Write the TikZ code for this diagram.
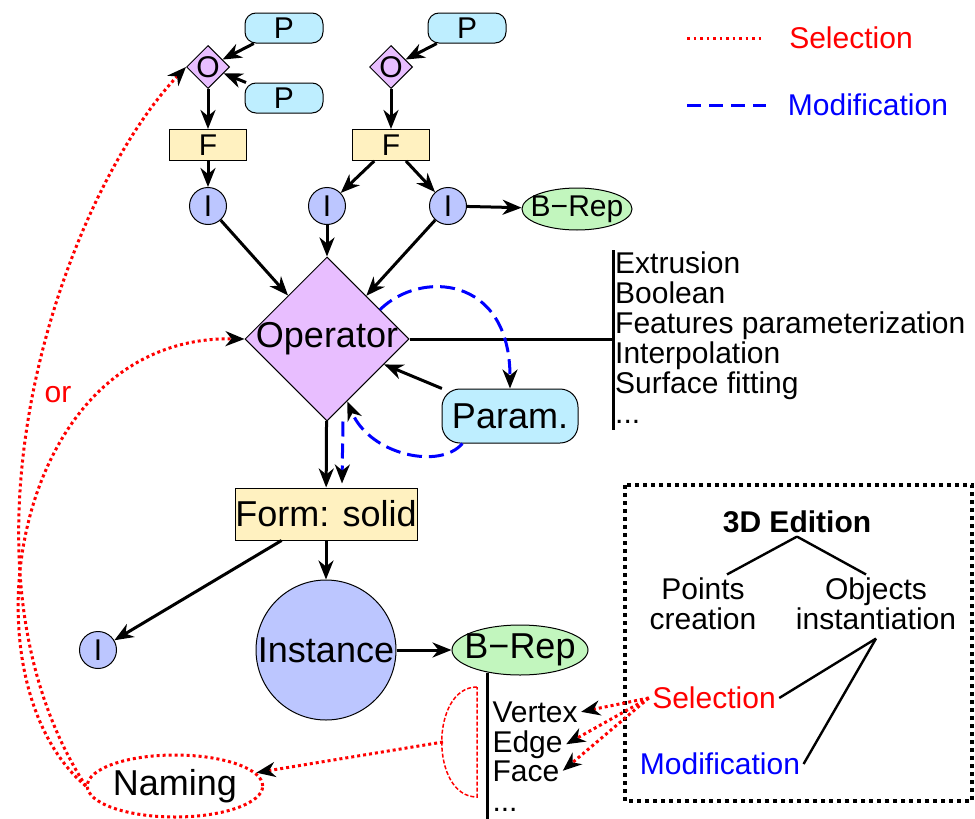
\documentclass[tikz,border=0pt]{standalone}
\usepackage{fontspec}
\setmainfont{Liberation Sans}
\usetikzlibrary{shapes.geometric}
\usetikzlibrary{arrows.meta}

\definecolor{pblue}{RGB}{190,238,255}
\definecolor{opurple}{RGB}{232,190,255}
\definecolor{fyellow}{RGB}{255,241,192}
\definecolor{iblue}{RGB}{188,198,255}
\definecolor{bgreen}{RGB}{194,246,190}

\tikzset{
  >={Stealth[length=19pt,width=15pt,inset=6pt,color=black]},
  txt/.style={font=\fontsize{30}{30}\selectfont},
  bigtxt/.style={font=\fontsize{36}{36}\selectfont},
  edgeline/.style={line width=1pt},
  pbox/.style={txt, draw, edgeline, fill=pblue, rounded corners=11pt, minimum width=78pt, minimum height=30pt, inner sep=0pt},
  obox/.style={txt, draw, edgeline, fill=opurple, diamond, minimum size=43pt, inner sep=-1pt},
  fbox/.style={txt, draw, edgeline, fill=fyellow, minimum width=77pt, minimum height=31pt, inner sep=0pt},
  ibox/.style={txt, draw, edgeline, fill=iblue, circle, minimum size=37pt, inner sep=0pt},
  brep/.style={draw, edgeline, fill=bgreen, ellipse, inner xsep=-8pt, inner ysep=0pt},
  arr/.style={->, line width=3pt},
  plain/.style={line width=3pt},
  selline/.style={->, red, line width=3pt, dash pattern=on 3pt off 3pt},
  modline/.style={->, blue, line width=3pt, dash pattern=on 15pt off 7pt},
  brkline/.style={red, line width=1.5pt, dash pattern=on 4pt off 2pt},
  boxline/.style={line width=4pt, dash pattern=on 4pt off 4pt},
}

\begin{document}
\begin{tikzpicture}[x=1pt, y=-1pt]
        \useasboundingbox[fill=white] (0,0) rectangle (975,819);
        %
        \node[pbox] (p1) at (284,28) {P};
        \node[pbox] (p2) at (284,98) {P};
        \node[pbox] (p3) at (467,28) {P};
        \node[obox] (o1) at (208,67) {O};
        \node[obox] (o2) at (391,67) {O};
        \node[fbox] (f1) at (208,145) {F};
        \node[fbox] (f2) at (391,145) {F};
        \node[ibox] (i1) at (208,206) {I};
        \node[ibox] (i2) at (327,206) {I};
        \node[ibox] (i3) at (448,206) {I};
        \node[brep, txt, minimum width=110pt, minimum height=42pt] (b1) at (577,209) {B−Rep};
        %
        \node[bigtxt, draw, edgeline, fill=opurple, diamond, minimum size=164pt, inner sep=-4pt] (op) at (327,339) {Operator};
        \node[bigtxt, draw, edgeline, fill=pblue, rounded corners=18pt, minimum width=136pt, minimum height=54pt] (prm) at (510,416) {Param.};
        \node[txt, anchor=north west, align=left, inner sep=2pt] (ops) at (613,250) {Extrusion\\Boolean\\Features parameterization\\Interpolation\\Surface fitting\\...};
        %
        \node[bigtxt, draw, edgeline, fill=fyellow, minimum width=182pt, minimum height=52pt, inner sep=0pt] (frm) at (326,514) {Form: solid};
        \node[bigtxt, draw, edgeline, fill=iblue, circle, minimum size=140pt, inner sep=0pt] (ins) at (326,650) {Instance};
        \node[ibox] (i4) at (98,650) {I};
        \node[brep, bigtxt, minimum width=136pt, minimum height=50pt] (b2) at (520,650) {B−Rep};
        %
        \node[txt, anchor=base west] (vtx) at (489,722) {Vertex};
        \node[txt, anchor=base west] (edg) at (489,752) {Edge};
        \node[txt, anchor=base west] (fac) at (489,781) {Face};
        \node[txt, anchor=base west] (etc) at (489,811) {...};
        \coordinate (vend) at (487,819);
        %
        \node[bigtxt, ellipse, draw=red, line width=3pt, dash pattern=on 3pt off 3pt, minimum width=174pt, minimum height=62pt, inner sep=0pt] (nam) at (175,786) {Naming};
        \node[txt, red] (orlbl) at (58,395) {or};
        %
        \coordinate (ls1) at (687,38);
        \coordinate (ls2) at (763,38);
        \node[txt, red] (lsel) at (851,38) {Selection};
        \coordinate (lm1) at (687,105);
        \coordinate (lm2) at (766,105);
        \node[txt, blue] (lmod) at (868,105) {Modification};
        %
        \draw[boxline] (625,485) rectangle (972,801);
        \node[txt, font=\fontsize{30}{30}\selectfont\bfseries] (ed3d) at (797,522) {3D Edition};
        \node[txt, align=center] (pts) at (703,604) {Points\\creation};
        \node[txt, align=center] (obj) at (876,604) {Objects\\instantiation};
        \node[txt, red] (sel) at (714,698) {Selection};
        \node[txt, blue] (mdf) at (720,764) {Modification};
        %
        \draw[arr] (p1) -- (o1);
        \draw[arr] (p2) -- (o1);
        \draw[arr] (p3) -- (o2);
        \draw[arr] (o1) -- (f1);
        \draw[arr] (o2) -- (f2);
        \draw[arr] (f1) -- (i1);
        \draw[arr] (f2) -- (i2);
        \draw[arr] (f2) -- (i3);
        \draw[arr] (i3) -- (b1);
        \draw[arr] (i1) -- (op);
        \draw[arr] (i2) -- (op);
        \draw[arr] (i3) -- (op);
        \draw[arr] (prm.158) -- (op.-24);
        \draw[arr] (op) -- (frm);
        \draw[arr] (frm) -- (ins);
        \draw[arr] (frm) -- (i4);
        \draw[arr] (ins) -- (b2);
        \draw[plain] (op.east) -- (op.east -| ops.west);
        \draw[plain] (ops.north west) -- ([yshift=-4pt]ops.south west);
        \draw[plain] ([yshift=3pt]b2.south -| vend) -- (vend);
        %
        \draw[modline] (op.29) .. controls (420,270) and (510,275) .. (prm.north);
        \draw[modline] (prm.210) .. controls (440,470) and (370,455) .. (op.-72);
        \draw[modline] ([xshift=16pt]op.south) -- ([xshift=16pt,yshift=4pt]frm.north);
        %
        \coordinate (bt) at (477,687);
        \coordinate (bb) at (477,797);
        \coordinate (bl) at (443,742);
        \draw[brkline] (bt) .. controls (430,687) and (430,797) .. (bb) -- cycle;
        \draw[selline] (bl) -- (nam);
        \draw[selline] (sel.west) -- (vtx.east);
        \draw[selline] (sel.west) -- (edg.east);
        \draw[selline] (sel.west) -- (fac.east);
        \draw[selline] (nam.west) .. controls (-60,560) and (60,200) .. (o1.west);
        \draw[selline] (nam.west) .. controls (-40,680) and (10,335) .. (op.west);
        %
        \draw[red, line width=3pt, dash pattern=on 2.5pt off 4pt] (ls1) -- (ls2);
        \draw[blue, line width=3pt, dash pattern=on 14pt off 8pt] (lm1) -- (lm2);
        %
        \draw[edgeline, line width=2.4pt] (ed3d.south) -- ([xshift=24pt]pts.north);
        \draw[edgeline, line width=2.4pt] (ed3d.south) -- ([xshift=-10pt]obj.north);
        \draw[edgeline, line width=2.4pt] ([yshift=-5pt]obj.south) -- (sel.east);
        \draw[edgeline, line width=2.4pt] ([yshift=-5pt]obj.south) -- (mdf.east);
\end{tikzpicture}
\end{document}
